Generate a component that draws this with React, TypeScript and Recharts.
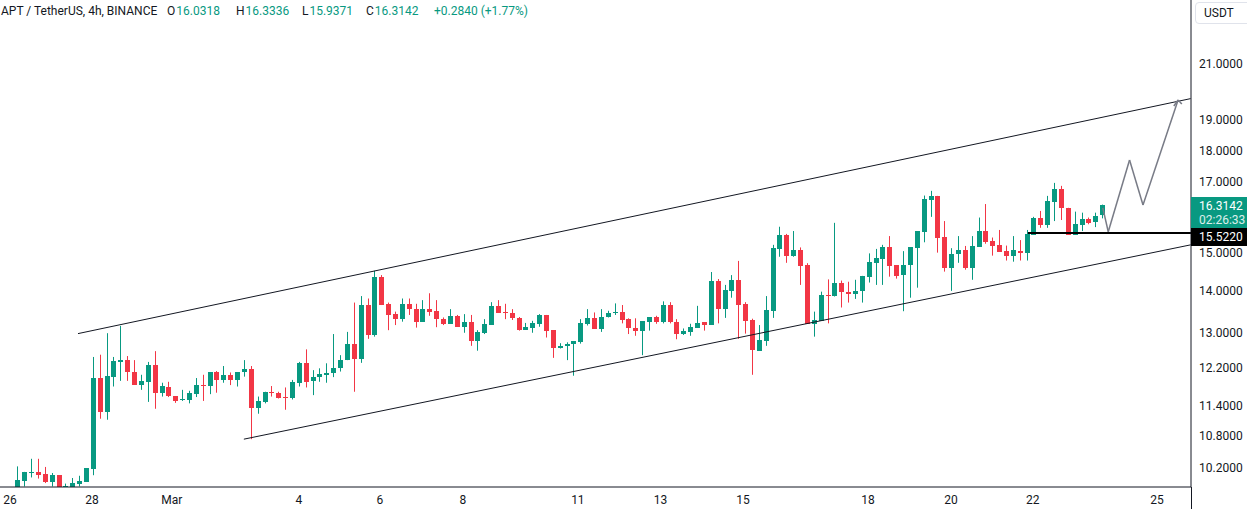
import React from 'react';
import { ComposedChart, Bar, XAxis, YAxis, ReferenceLine } from 'recharts';

const UP = '#089981';
const DOWN = '#f23645';
const INK = '#131722';
const FONT = 'Roboto, "Liberation Sans", sans-serif';

// APT / TetherUS 4h candles
const opens = [
  9.80, 9.97, 10.11, 10.13, 10.09, 9.95, 10.07, 9.86, 9.84, 9.92, 9.95, 10.19, 11.98, 11.28, 12.01, 12.33, 12.37, 12.11, 11.84, 11.90,
  12.26, 11.67, 11.79, 11.60, 11.52, 11.52, 11.64, 11.83, 11.81, 12.12, 11.94, 12.05, 11.94, 12.10, 12.18, 11.36, 11.48, 11.69, 11.67, 11.58,
  11.55, 11.87, 12.30, 11.92, 12.00, 12.05, 12.08, 12.19, 12.37, 12.73, 12.40, 13.65, 12.94, 14.35, 13.68, 13.43, 13.31, 13.68, 13.55, 13.25,
  13.55, 13.50, 13.31, 13.20, 13.39, 13.13, 13.24, 12.81, 12.98, 13.18, 13.63, 13.49, 13.46, 13.34, 13.06, 13.11, 13.20, 13.41, 13.05, 12.63,
  12.69, 12.73, 12.78, 13.20, 13.33, 13.08, 13.35, 13.45, 13.47, 13.31, 13.09, 13.04, 13.25, 13.35, 13.25, 13.65, 13.25, 12.96, 13.01, 13.11,
  13.24, 13.18, 14.25, 13.56, 14.00, 14.28, 13.68, 13.29, 12.58, 12.81, 13.51, 15.10, 15.47, 14.91, 15.06, 14.66, 13.20, 13.27, 13.90, 13.86,
  14.21, 13.96, 13.92, 14.00, 14.36, 14.72, 14.83, 15.13, 14.65, 14.39, 14.66, 15.12, 15.56, 16.48, 16.59, 15.41, 14.59, 14.95, 15.05, 14.59,
  15.15, 15.58, 15.31, 15.20, 15.03, 14.91, 15.03, 14.99, 15.47, 15.96, 15.75, 16.42, 16.80, 16.24, 15.47, 15.75, 15.92, 15.82, 16.0318,
];
const highs = [
  10.23, 10.13, 10.37, 10.37, 10.22, 10.11, 10.07, 9.92, 10.02, 10.06, 10.20, 12.44, 12.49, 12.98, 12.44, 13.15, 12.46, 12.37, 12.05, 12.33,
  12.57, 11.88, 11.90, 11.60, 11.73, 11.71, 11.98, 12.05, 12.11, 12.13, 12.24, 12.10, 12.11, 12.37, 12.24, 11.59, 11.69, 11.81, 11.69, 11.78,
  11.94, 12.33, 12.61, 12.15, 12.19, 12.30, 12.96, 12.48, 13.01, 13.71, 13.87, 13.81, 14.51, 14.40, 13.71, 13.49, 13.81, 13.81, 13.68, 13.77,
  13.94, 13.77, 13.35, 13.55, 13.41, 13.43, 13.41, 13.05, 13.31, 13.72, 13.77, 13.68, 13.55, 13.36, 13.22, 13.27, 13.43, 13.41, 13.05, 12.75,
  12.77, 12.80, 13.31, 13.55, 13.47, 13.55, 13.51, 13.69, 13.65, 13.33, 13.33, 13.26, 13.35, 13.39, 13.74, 13.72, 13.31, 13.09, 13.20, 13.63,
  13.24, 14.48, 14.30, 14.15, 14.40, 14.77, 13.72, 13.32, 13.17, 13.87, 15.20, 15.70, 15.50, 15.58, 15.13, 14.71, 13.49, 13.98, 14.29, 15.81,
  14.26, 14.23, 14.28, 14.38, 14.97, 15.09, 15.20, 15.44, 14.65, 15.03, 15.14, 15.58, 16.60, 16.74, 16.59, 15.86, 15.11, 15.44, 15.17, 15.44,
  15.96, 16.35, 15.40, 15.61, 15.18, 15.44, 15.33, 15.61, 15.98, 16.15, 16.59, 16.98, 16.89, 16.24, 16.13, 16.10, 15.96, 16.10, 16.3336,
];
const lows = [
  9.75, 9.87, 10.03, 10.01, 9.93, 9.87, 9.80, 9.84, 9.83, 9.87, 9.95, 10.07, 11.14, 11.12, 11.80, 11.92, 11.92, 11.84, 11.73, 11.48,
  11.34, 11.59, 11.58, 11.46, 11.50, 11.45, 11.58, 11.50, 11.64, 11.67, 11.88, 11.83, 11.80, 12.01, 10.74, 11.24, 11.45, 11.59, 11.55, 11.32,
  11.53, 11.80, 11.78, 11.62, 11.90, 11.88, 12.00, 12.12, 12.37, 11.69, 12.31, 12.85, 12.90, 13.65, 13.05, 13.17, 13.25, 13.41, 13.11, 13.25,
  13.39, 13.12, 13.17, 13.20, 13.13, 12.99, 12.69, 12.58, 12.96, 13.18, 13.46, 13.31, 13.29, 13.04, 13.06, 12.99, 13.13, 12.88, 12.42, 12.63,
  12.37, 12.03, 12.74, 13.16, 13.08, 13.01, 13.35, 13.41, 13.21, 12.96, 12.92, 12.48, 13.04, 13.20, 13.21, 13.21, 12.84, 12.94, 12.92, 13.11,
  13.04, 13.18, 13.21, 13.34, 13.83, 12.85, 12.97, 12.05, 12.58, 12.69, 13.34, 14.88, 14.72, 14.88, 14.15, 13.20, 12.90, 13.27, 13.21, 13.86,
  13.59, 13.71, 13.80, 13.71, 14.21, 14.15, 14.15, 14.36, 14.31, 13.50, 13.83, 14.08, 15.27, 15.98, 14.99, 14.49, 14.00, 14.72, 14.54, 14.28,
  15.15, 15.23, 14.91, 15.02, 14.78, 14.75, 14.78, 14.78, 15.47, 15.67, 15.67, 15.86, 15.89, 15.47, 15.47, 15.58, 15.77, 15.69, 15.9371,
];
const closes = [
  9.99, 10.13, 10.13, 10.08, 9.95, 10.07, 9.84, 9.88, 9.93, 9.97, 10.20, 11.98, 11.28, 12.02, 12.35, 12.37, 12.10, 11.84, 11.92, 12.26,
  11.67, 11.81, 11.60, 11.50, 11.54, 11.67, 11.83, 11.82, 12.11, 11.94, 12.05, 11.94, 12.11, 12.18, 11.36, 11.50, 11.69, 11.66, 11.57, 11.57,
  11.90, 12.30, 11.90, 12.00, 12.07, 12.08, 12.19, 12.37, 12.73, 12.40, 13.65, 12.94, 14.35, 13.65, 13.42, 13.32, 13.68, 13.55, 13.25, 13.55,
  13.49, 13.31, 13.20, 13.39, 13.13, 13.24, 12.81, 13.00, 13.20, 13.63, 13.46, 13.47, 13.33, 13.05, 13.12, 13.21, 13.41, 13.04, 12.63, 12.69,
  12.73, 12.80, 13.22, 13.33, 13.08, 13.35, 13.46, 13.47, 13.29, 13.09, 13.04, 13.26, 13.35, 13.25, 13.65, 13.25, 12.96, 13.03, 13.13, 13.22,
  13.18, 14.25, 13.56, 14.02, 14.28, 13.66, 13.27, 12.60, 12.82, 13.53, 15.11, 15.47, 14.91, 15.06, 14.64, 13.20, 13.29, 13.90, 13.86, 14.21,
  13.96, 13.93, 14.00, 14.38, 14.74, 14.85, 15.13, 14.64, 14.38, 14.66, 15.14, 15.58, 16.50, 16.59, 15.40, 14.59, 14.95, 15.05, 14.59, 15.17,
  15.58, 15.29, 15.18, 15.02, 14.91, 15.06, 14.99, 15.50, 15.96, 15.75, 16.44, 16.80, 16.23, 15.47, 15.78, 15.92, 15.80, 16.00, 16.3142,
];

// time axis (candle index positions of the day labels)
const dayTicks = [-1.06, 10.88, 22.5, 41.0, 52.8, 64.9, 81.65, 93.7, 105.7, 123.9, 136.0, 147.9, 166.0];
const dayLabels = ['26', '28', 'Mar', '4', '6', '8', '11', '13', '15', '18', '20', '22', '25'];
const priceTicks = [10.2, 10.8, 11.4, 12.2, 13, 14, 15, 17, 18, 19, 21];

// legend values of the last candle
const legendKeys = ['O', 'H', 'L', 'C'];
const legendValues = ['16.0318', '16.3336', '15.9371', '16.3142'];
const legendLeft = [167, 236, 302, 366];
const legendChange = '+0.2840 (+1.77%)';

// drawings: channel, support level, projected path
const channelUpper = [{ x: 8.84, y: 12.97 }, { x: 170.9, y: 19.74 }];
const channelLower = [{ x: 33.0, y: 10.74 }, { x: 170.9, y: 15.2 }];
const supportLevel = 15.522;
const supportStart = 147.2;
const pathIdx = [158.1, 158.9, 162.0, 163.96, 169.07];
const pathPrice = [16.24, 15.56, 17.69, 16.32, 19.69];
const arrowIdx = [168.45, 169.61];
const arrowPrice = [19.48, 19.55];

const X_DOMAIN = [-2.52, 170.95];
const Y_DOMAIN = [9.86, 23.545];

const candles = opens.map((o, i) => ({ i, open: o, high: highs[i], low: lows[i], close: closes[i] }));

const Candle = (props: any) => {
  const { x, y, width, height, payload } = props;
  if (!payload || height == null) return null;
  const { open, close, high, low } = payload;
  const lh = Math.log(high);
  const span = lh - Math.log(low) || 1;
  // log scale: position inside the high-low range
  const py = (v: number) => y + (height * (lh - Math.log(v))) / span;
  const cx = Math.round(x + width / 2);
  const color = close >= open ? UP : DOWN;
  const top = Math.round(py(Math.max(open, close)));
  const bot = Math.round(py(Math.min(open, close)));
  return (
    <g>
      <rect x={cx} y={y} width={1} height={Math.max(1, height)} fill={color} />
      <rect x={cx - 2} y={top} width={5} height={Math.max(1, bot - top)} fill={color} />
    </g>
  );
};

export default function App() {
  const pathSegs = pathIdx.slice(1).map((xi, k) => [
    { x: pathIdx[k], y: pathPrice[k] },
    { x: xi, y: pathPrice[k + 1] },
  ]);
  const tip = { x: pathIdx[pathIdx.length - 1], y: pathPrice[pathPrice.length - 1] };
  const arrowSegs = arrowIdx.map((xi, k) => [{ x: xi, y: arrowPrice[k] }, tip]);

  return (
    <div style={{ position: 'fixed', left: 0, top: 0, width: 1247, height: 509, background: '#fff', overflow: 'hidden', fontFamily: FONT }}>
      <ComposedChart width={1247} height={509} data={candles} margin={{ top: 0, right: 0, bottom: 0, left: 0 }}>
        <XAxis
          dataKey="i"
          type="number"
          domain={X_DOMAIN}
          allowDataOverflow
          ticks={dayTicks}
          interval={0}
          tickFormatter={(v) => dayLabels[dayTicks.indexOf(v)] ?? ''}
          height={22}
          tickLine={false}
          tickSize={0}
          tickMargin={8}
          axisLine={{ stroke: INK }}
          tick={{ fill: INK, fontSize: 12 }}
        />
        <YAxis
          orientation="right"
          scale="log"
          domain={Y_DOMAIN}
          allowDataOverflow
          ticks={priceTicks}
          interval={0}
          tickFormatter={(v) => Number(v).toFixed(4)}
          width={56}
          tickLine={false}
          tickSize={0}
          tickMargin={8}
          axisLine={{ stroke: INK }}
          tick={{ fill: INK, fontSize: 12 }}
        />
        <Bar dataKey={(d: any) => [d.low, d.high]} barSize={5} shape={Candle} isAnimationActive={false} />
        <ReferenceLine segment={channelUpper} stroke={INK} strokeWidth={1} ifOverflow="hidden" />
        <ReferenceLine segment={channelLower} stroke={INK} strokeWidth={1} ifOverflow="hidden" />
        <ReferenceLine
          segment={[{ x: supportStart, y: supportLevel }, { x: X_DOMAIN[1], y: supportLevel }]}
          stroke="#000"
          strokeWidth={2}
          ifOverflow="hidden"
        />
        {pathSegs.map((s, k) => (
          <ReferenceLine key={`p${k}`} segment={s} stroke="#787b86" strokeWidth={1.5} ifOverflow="hidden" />
        ))}
        {arrowSegs.map((s, k) => (
          <ReferenceLine key={`a${k}`} segment={s} stroke="#787b86" strokeWidth={1.5} ifOverflow="hidden" />
        ))}
      </ComposedChart>

      {/* legend line */}
      <div style={{ position: 'absolute', left: 1, top: 3, fontSize: 12, lineHeight: '16px', color: INK, whiteSpace: 'nowrap' }}>
        APT / TetherUS, 4h, BINANCE
      </div>
      {legendKeys.map((k, n) => (
        <div key={k} style={{ position: 'absolute', left: legendLeft[n], top: 3, fontSize: 12, lineHeight: '16px', color: INK, whiteSpace: 'nowrap' }}>
          {k}
          <span style={{ color: UP, marginLeft: 1 }}>{legendValues[n]}</span>
        </div>
      ))}
      <div style={{ position: 'absolute', left: 434, top: 3, fontSize: 12, lineHeight: '16px', color: UP, whiteSpace: 'nowrap' }}>
        {legendChange}
      </div>

      {/* price scale extras */}
      <div style={{ position: 'absolute', left: 1195, top: 2, width: 60, height: 22, border: '1px solid #e0e3eb', borderRadius: 4, boxSizing: 'border-box', fontSize: 12, lineHeight: '20px', paddingLeft: 8, color: INK }}>
        USDT
      </div>
      <div style={{ position: 'absolute', left: 1191, top: 487, width: 1, height: 22, background: INK }} />
      <div style={{ position: 'absolute', left: 1191, top: 197, width: 56, height: 31, background: UP, color: '#fff', fontSize: 12, lineHeight: '14px', paddingLeft: 8, paddingTop: 2, boxSizing: 'border-box' }}>
        <div>16.3142</div>
        <div style={{ opacity: 0.85 }}>02:26:33</div>
      </div>
      <div style={{ position: 'absolute', left: 1191, top: 228, width: 56, height: 18, background: '#000', color: '#fff', fontSize: 12, lineHeight: '18px', paddingLeft: 8, boxSizing: 'border-box' }}>
        15.5220
      </div>
    </div>
  );
}
